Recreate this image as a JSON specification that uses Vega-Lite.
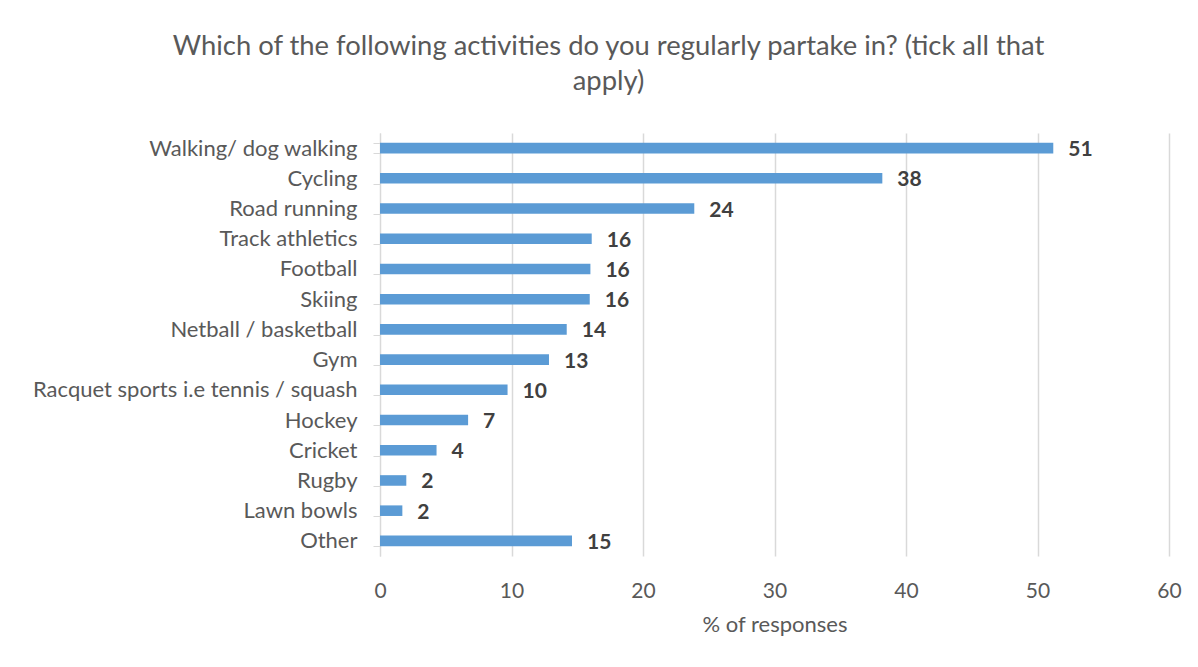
{
  "$schema": "https://vega.github.io/schema/vega-lite/v6.json",
  "width": 789,
  "height": 423,
  "autosize": {"type": "none"},
  "padding": {"left": 380, "top": 133, "right": 29, "bottom": 111},
  "background": "white",
  "title": {
    "text": ["Which of the following activities do you regularly partake in? (tick all that", "apply)"],
    "anchor": "middle",
    "frame": "group",
    "dx": -166,
    "offset": 27,
    "lineHeight": 35,
    "font": "Lato",
    "fontSize": 27.4,
    "fontWeight": "normal",
    "color": "#595959"
  },
  "data": {
    "values": [
      {"activity": "Walking/ dog walking", "pct": 51.2},
      {"activity": "Cycling\u00a0\u00a0", "pct": 38.2},
      {"activity": "Road running\u00a0\u00a0", "pct": 23.9},
      {"activity": "Track athletics\u00a0\u00a0", "pct": 16.1},
      {"activity": "Football\u00a0\u00a0", "pct": 16.0},
      {"activity": "Skiing\u00a0\u00a0", "pct": 15.95},
      {"activity": "Netball / basketball", "pct": 14.2},
      {"activity": "Gym", "pct": 12.85},
      {"activity": "Racquet sports i.e tennis / squash", "pct": 9.7},
      {"activity": "Hockey\u00a0\u00a0", "pct": 6.7},
      {"activity": "Cricket", "pct": 4.3},
      {"activity": "Rugby\u00a0\u00a0", "pct": 2.0},
      {"activity": "Lawn bowls", "pct": 1.7},
      {"activity": "Other", "pct": 14.6}
    ]
  },
  "encoding": {
    "y": {
      "field": "activity",
      "type": "nominal",
      "sort": null,
      "scale": {"paddingInner": 0.65, "paddingOuter": 0.325},
      "axis": {
        "title": null,
        "tickBand": "extent",
        "tickSize": 7,
        "tickColor": "#d9d9d9",
        "domainColor": "#d9d9d9",
        "labelFont": "Lato",
        "labelFontSize": 22,
        "labelColor": "#595959",
        "labelPadding": 16,
        "labelLimit": 400,
        "grid": false
      }
    },
    "x": {
      "field": "pct",
      "type": "quantitative",
      "scale": {"domain": [0, 60]},
      "axis": {
        "title": "% of responses",
        "values": [0, 10, 20, 30, 40, 50, 60],
        "domain": false,
        "ticks": false,
        "grid": true,
        "gridColor": "#d9d9d9",
        "gridWidth": 1.5,
        "labelFlush": false,
        "labelFont": "Lato",
        "labelFontSize": 21,
        "labelColor": "#595959",
        "labelPadding": 24,
        "titleFont": "Lato",
        "titleFontSize": 22,
        "titleFontWeight": "normal",
        "titleColor": "#595959",
        "titlePadding": 13
      }
    }
  },
  "layer": [
    {"mark": {"type": "bar", "color": "#5B9BD5"}},
    {
      "mark": {
        "type": "text",
        "align": "left",
        "baseline": "middle",
        "dx": 15,
        "dy": 2,
        "font": "Lato",
        "fontSize": 21,
        "fontWeight": "bold",
        "color": "#404040"
      },
      "encoding": {"text": {"field": "pct", "type": "quantitative", "format": ".0f"}}
    }
  ],
  "config": {"view": {"stroke": null}}
}
